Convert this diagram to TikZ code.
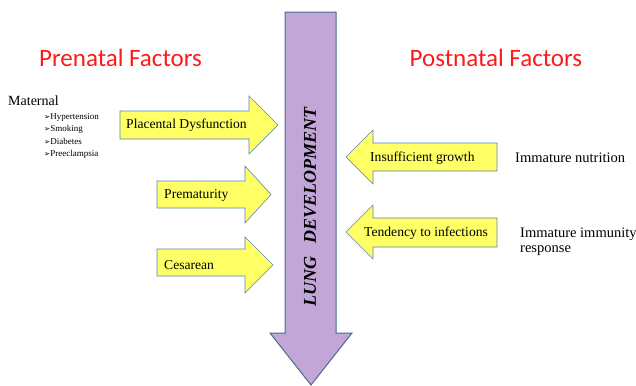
\documentclass[tikz,border=0pt]{standalone}
\usepackage{fontspec}
\setmainfont{Liberation Serif}
\newfontfamily\titlefont{Carlito}
\newfontfamily\symfont{DejaVu Sans}
\definecolor{arrowyellow}{HTML}{FFFF66}
\definecolor{edgeblue}{HTML}{5B84B5}
\definecolor{lungpurple}{HTML}{C3A6D8}
\definecolor{titlered}{HTML}{FF1A1A}
\newcommand{\bulmark}{{\symfont\fontsize{7.5bp}{8bp}\selectfont ➢}}
\begin{document}
\begin{tikzpicture}[x=1bp,y=-1bp,
  factor/.style={fill=arrowyellow,draw=edgeblue,line width=0.6bp,line join=miter},
  bigarrow/.style={fill=lungpurple,draw=edgeblue!80!black,line width=1bp,line join=miter},
  lbl/.style={font=\fontsize{13.6bp}{15bp}\selectfont,inner sep=0pt},
  side/.style={font=\fontsize{14.5bp}{15bp}\selectfont,inner sep=0pt,anchor=west,align=left},
  title/.style={font=\titlefont\fontsize{25bp}{28bp}\selectfont,text=titlered,inner sep=0pt},
  bul/.style={font=\fontsize{9bp}{10bp}\selectfont,inner sep=0pt,anchor=base west}]
\useasboundingbox (0,0) rectangle (636,385);
% big arrow
\draw[bigarrow] (285,12) -- (336,12) -- (336,333) -- (352,333) -- (311,385) -- (270,333) -- (285,333) -- cycle;
\node[rotate=90,font=\bfseries\itshape\fontsize{18bp}{20bp}\selectfont,inner sep=0pt] (lung) at (310,207) {LUNG\ \ \ DEVELOPMENT};
% titles
\node[title] (pre) at (120.5,58) {Prenatal Factors};
\node[title] (post) at (496,58) {Postnatal Factors};
% left arrows
\draw[factor] (120,111) -- (249,111) -- (249,96) -- (278,125) -- (249,154) -- (249,139) -- (120,139) -- cycle;
\node[lbl,anchor=west] (plac) at (126,125.5) {Placental Dysfunction};
\draw[factor] (157,181) -- (245,181) -- (245,166) -- (271,194.5) -- (245,223) -- (245,208) -- (157,208) -- cycle;
\node[lbl,anchor=west] (prem) at (164,195) {Prematurity};
\draw[factor] (157,249) -- (245,249) -- (245,237) -- (273,265) -- (245,293) -- (245,276) -- (157,276) -- cycle;
\node[lbl,anchor=west] (ces) at (164,265) {Cesarean};
% right arrows
\draw[factor] (497,143) -- (373,143) -- (373,130) -- (346,157) -- (373,184) -- (373,171) -- (497,171) -- cycle;
\node[lbl,anchor=west] (insuf) at (370,158) {Insufficient growth};
\draw[factor] (497,218) -- (373,218) -- (373,205) -- (346,232) -- (373,259) -- (373,247) -- (497,247) -- cycle;
\node[lbl,anchor=west] (tend) at (364,233) {Tendency to infections};
% side texts
\node[side] (nutr) at (515,158) {Immature nutrition};
\node[side] (immu) at (520,241.5) {Immature immunity\\response};
\node[side,font=\fontsize{14bp}{15bp}\selectfont] (mat) at (8,101) {Maternal};
\node[bul] (b1) at (44,119) {\bulmark Hypertension};
\node[bul] (b2) at (44,131.5) {\bulmark Smoking};
\node[bul] (b3) at (44,144) {\bulmark Diabetes};
\node[bul] (b4) at (44,156.5) {\bulmark Preeclampsia};
\end{tikzpicture}
\end{document}
